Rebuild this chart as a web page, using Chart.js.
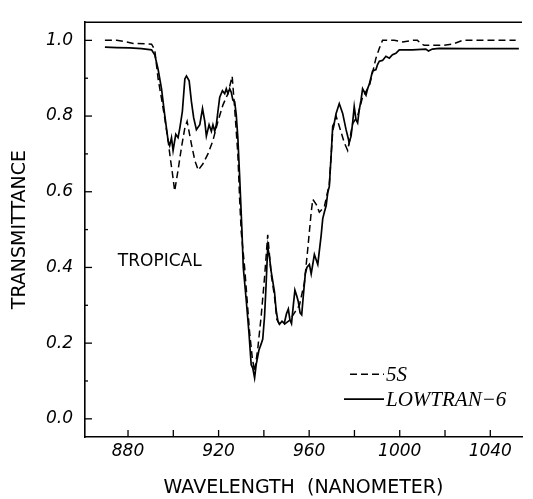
<!DOCTYPE html>
<html>
<head>
<meta charset="utf-8">
<script src="https://cdn.jsdelivr.net/npm/chart.js@4.4.0/dist/chart.umd.min.js"></script>
<style>
  html, body { margin: 0; padding: 0; background: #fff; }
  #wrap { width: 533px; height: 499px; }
</style>
</head>
<body>
<div id="wrap"><canvas id="chart" width="533" height="499"></canvas></div>
<script>
// LOWTRAN-6 transmittance, tropical atmosphere
const lowtranNm = [
    869.8, 875.0, 880.8, 886.0, 890.4, 891.8, 893.3, 894.8, 896.2, 897.7,
    898.4, 899.2, 899.9, 901.1, 902.1, 902.9, 904.0, 905.1, 905.8, 907.0,
    908.0, 909.0, 910.2, 911.7, 912.9, 913.9, 914.6, 915.8, 916.8, 917.5,
    918.3, 919.0, 919.7, 920.5, 921.7, 922.7, 923.4, 924.1, 924.9, 925.6,
    926.3, 927.1, 927.8, 928.5, 929.3, 930.3, 930.9, 932.2, 933.4, 934.4,
    935.1, 935.9, 936.6, 937.8, 938.8, 939.5, 940.3, 941.0, 941.7, 942.5,
    943.2, 944.7, 945.4, 946.2, 946.9, 948.0, 949.0, 950.0, 950.8, 951.5,
    952.2, 953.0, 953.7, 954.5, 955.2, 956.0, 956.7, 957.5, 958.3, 959.0,
    960.1, 960.9, 962.3, 963.8, 965.3, 966.0, 966.7, 967.5, 968.2, 968.9,
    969.7, 970.4, 971.1, 971.9, 973.3, 974.8, 976.3, 977.7, 978.5, 979.2,
    979.9, 980.7, 981.4, 982.1, 982.9, 983.6, 985.1, 985.8, 986.6, 987.3,
    988.0, 989.5, 990.2, 991.0, 992.4, 993.9, 995.4, 996.8, 998.3, 999.8,
    1005.6, 1011.5, 1012.7, 1014.4, 1017.4, 1030.0, 1052.6
];
const lowtranT = [
    0.982, 0.981, 0.980, 0.978, 0.975, 0.962, 0.923, 0.872, 0.803, 0.735,
    0.722, 0.743, 0.709, 0.752, 0.743, 0.769, 0.812, 0.898, 0.906, 0.893,
    0.838, 0.795, 0.764, 0.777, 0.820, 0.786, 0.747, 0.777, 0.760, 0.777,
    0.760, 0.777, 0.812, 0.850, 0.867, 0.859, 0.872, 0.859, 0.872, 0.863,
    0.842, 0.838, 0.803, 0.743, 0.640, 0.500, 0.400, 0.314, 0.228, 0.143,
    0.134, 0.108, 0.143, 0.181, 0.198, 0.211, 0.271, 0.357, 0.455, 0.426,
    0.390, 0.335, 0.288, 0.258, 0.250, 0.258, 0.252, 0.278, 0.290, 0.262,
    0.252, 0.300, 0.340, 0.325, 0.310, 0.280, 0.275, 0.331, 0.383, 0.400,
    0.408, 0.383, 0.434, 0.408, 0.485, 0.529, 0.546, 0.563, 0.597, 0.614,
    0.696, 0.773, 0.782, 0.807, 0.833, 0.807, 0.764, 0.730, 0.747, 0.782,
    0.825, 0.790, 0.782, 0.816, 0.842, 0.872, 0.855, 0.872, 0.885, 0.902,
    0.919, 0.923, 0.936, 0.945, 0.947, 0.958, 0.953, 0.962, 0.966, 0.975,
    0.975, 0.977, 0.972, 0.977, 0.979, 0.978, 0.978
];

// 5S transmittance, same atmosphere (coarser sampling)
const fiveSNm = [
    869.8, 875.0, 878.6, 882.3, 890.4, 891.8, 893.3, 894.8, 896.2, 897.7,
    898.8, 899.6, 900.6, 902.1, 903.6, 905.1, 906.1, 908.0, 909.5, 911.0,
    913.1, 915.3, 917.5, 919.7, 921.9, 924.1, 926.0, 927.1, 927.8, 928.5,
    929.3, 930.0, 931.5, 933.7, 934.9, 935.9, 937.3, 938.8, 940.3, 941.7,
    943.2, 944.7, 945.7, 946.9, 949.1, 951.3, 953.5, 955.7, 957.9, 959.4,
    960.9, 961.6, 963.1, 964.5, 966.7, 968.9, 970.4, 971.9, 973.3, 975.5,
    977.0, 979.2, 981.4, 983.6, 986.6, 988.0, 989.5, 991.0, 992.4, 997.6,
    1001.2, 1005.6, 1007.8, 1009.3, 1010.8, 1019.6, 1023.3, 1027.7, 1051.2
];
const fiveST = [
    1.000, 1.000, 0.997, 0.992, 0.990, 0.975, 0.898, 0.846, 0.795, 0.735,
    0.683, 0.649, 0.602, 0.657, 0.717, 0.769, 0.786, 0.726, 0.683, 0.657,
    0.674, 0.700, 0.735, 0.786, 0.829, 0.859, 0.905, 0.820, 0.760, 0.700,
    0.580, 0.494, 0.400, 0.228, 0.160, 0.125, 0.185, 0.271, 0.374, 0.486,
    0.383, 0.323, 0.263, 0.250, 0.250, 0.260, 0.280, 0.300, 0.360, 0.450,
    0.546, 0.580, 0.567, 0.546, 0.560, 0.620, 0.760, 0.800, 0.773, 0.730,
    0.709, 0.780, 0.800, 0.850, 0.880, 0.915, 0.953, 0.979, 1.000, 1.000,
    0.996, 1.000, 1.000, 0.992, 0.987, 0.987, 0.990, 1.000, 1.000
];

const X_MIN = 861, X_MAX = 1054, X_STEP = 20;
const Y_MIN = -0.048, Y_MAX = 1.048, Y_STEP = 0.2;
const atmosphereLabel = 'TROPICAL';

const toPoints = (xs, ys) => xs.map((x, i) => ({ x, y: ys[i] }));

const tickFont = { family: '"DejaVu Sans", sans-serif', size: 17, style: 'italic' };
const titleFont = { family: '"DejaVu Sans", sans-serif', size: 19 };

// inward tick marks, top frame line, the atmosphere note and the legend
const framePlugin = {
    id: 'framePlugin',
    afterDraw(chart) {
        const { ctx, chartArea: area, scales: { x, y } } = chart;
        const seg = (x1, y1, x2, y2) => {
            ctx.beginPath();
            ctx.moveTo(x1, y1);
            ctx.lineTo(x2, y2);
            ctx.stroke();
        };
        ctx.save();
        ctx.strokeStyle = '#000';
        ctx.fillStyle = '#000';

        ctx.lineWidth = 1.6;
        seg(area.left, area.top, area.right, area.top);

        ctx.lineWidth = 1.3;
        x.ticks.forEach(t => {
            const px = x.getPixelForValue(t.value);
            seg(px, area.bottom, px, area.bottom - 7);
        });
        y.ticks.forEach(t => {
            const py = y.getPixelForValue(t.value);
            seg(area.left, py, area.left + 7, py);
            const mid = t.value + Y_STEP / 2;
            if (mid < Y_MAX) {
                const pm = y.getPixelForValue(mid);
                seg(area.left, pm, area.left + 3, pm);
            }
        });

        ctx.font = '17px "DejaVu Sans", sans-serif';
        ctx.textBaseline = 'middle';
        ctx.textAlign = 'left';
        ctx.fillText(atmosphereLabel, x.getPixelForValue(875.5), y.getPixelForValue(0.416));

        // legend, bottom right of the plot
        const lx = area.left + 259;
        const ly = area.top + 352;
        ctx.font = 'italic 21px "Liberation Serif", serif';
        ctx.textBaseline = 'alphabetic';
        chart.data.datasets.forEach((ds, i) => {
            const rowY = ly + i * 25;
            ctx.lineWidth = ds.borderWidth;
            ctx.setLineDash(ds.borderDash || []);
            const startX = ds.borderDash ? lx + 6 : lx;
            seg(startX, rowY, lx + 40, rowY);
            ctx.setLineDash([]);
            ctx.fillText(ds.label, lx + 42, rowY + 7);
        });
        ctx.restore();
    }
};

new Chart(document.getElementById('chart'), {
    type: 'line',
    data: {
        datasets: [
            {
                label: '5S',
                data: toPoints(fiveSNm, fiveST),
                borderColor: '#000',
                borderWidth: 1.5,
                borderDash: [7, 4],
                pointRadius: 0,
                tension: 0
            },
            {
                label: 'LOWTRAN−6',
                data: toPoints(lowtranNm, lowtranT),
                borderColor: '#000',
                borderWidth: 1.7,
                pointRadius: 0,
                tension: 0
            }
        ]
    },
    options: {
        responsive: false,
        animation: false,
        layout: { padding: { left: 0, right: 11, top: 11, bottom: 0 } },
        plugins: {
            legend: { display: false },
            tooltip: { enabled: false }
        },
        scales: {
            x: {
                type: 'linear',
                min: X_MIN,
                max: X_MAX,
                grid: { drawOnChartArea: false, drawTicks: false },
                border: { display: true, color: '#000', width: 1.6 },
                ticks: {
                    stepSize: X_STEP,
                    includeBounds: false,
                    padding: 4,
                    color: '#000',
                    font: tickFont,
                    callback: v => (v % 40 === 0 ? String(v) : '')
                },
                title: {
                    display: true,
                    text: 'WAVELENGTH  (NANOMETER)',
                    color: '#000',
                    font: titleFont,
                    padding: { top: 0, bottom: 0 }
                },
                afterFit: scale => { scale.height = 62; }
            },
            y: {
                min: Y_MIN,
                max: Y_MAX,
                grid: { drawOnChartArea: false, drawTicks: false },
                border: { display: true, color: '#000', width: 1.6 },
                ticks: {
                    stepSize: Y_STEP,
                    includeBounds: false,
                    padding: 12,
                    color: '#000',
                    font: tickFont,
                    callback: v => v.toFixed(1)
                },
                title: {
                    display: true,
                    text: 'TRANSMITTANCE',
                    color: '#000',
                    font: titleFont,
                    padding: { top: 9, bottom: 0 }
                },
                afterFit: scale => { scale.width = 85; }
            }
        }
    },
    plugins: [framePlugin]
});
</script>
</body>
</html>
